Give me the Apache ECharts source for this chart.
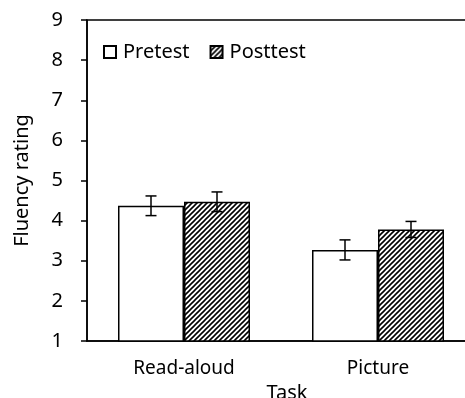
<!DOCTYPE html>
<html>
<head>
<meta charset="utf-8">
<script src="https://cdn.jsdelivr.net/npm/echarts@6/dist/echarts.min.js"></script>
<style>
  html, body { margin: 0; padding: 0; background: #fff; }
  #chart { width: 465px; height: 398px; }
</style>
</head>
<body>
<div id="chart"></div>
<script>
// data
const tasks = ['Read-aloud', 'Picture']
const pretest = [4.37, 3.27]
const pretestErr = [0.245, 0.25]
const posttest = [4.47, 3.78]
const posttestErr = [0.245, 0.2]
const yTicks = [1, 9, 1] // min, max, interval

const FONT = '"Noto Sans", sans-serif'
const BAR_W = 66

// hatched fill for the posttest bars
function makeHatch() {
  const c = document.createElement('canvas')
  c.width = 5
  c.height = 5
  const ctx = c.getContext('2d')
  ctx.fillStyle = '#fff'
  ctx.fillRect(0, 0, 5, 5)
  ctx.strokeStyle = '#000'
  ctx.lineWidth = 1.6
  ctx.beginPath()
  ctx.moveTo(0, 5); ctx.lineTo(5, 0)
  ctx.moveTo(-1, 1); ctx.lineTo(1, -1)
  ctx.moveTo(4, 6); ctx.lineTo(6, 4)
  ctx.stroke()
  return c
}
const hatch = { image: makeHatch(), repeat: 'repeat' }

function errData(vals, errs) {
  return vals.map((v, i) => [i, v + errs[i], v - errs[i]])
}

function errRender(offset) {
  return function (params, api) {
    const hi = api.coord([api.value(0), api.value(1)])
    const lo = api.coord([api.value(0), api.value(2)])
    const x = hi[0] + offset
    const cap = 5.5
    const style = { stroke: '#000', lineWidth: 1.5 }
    return {
      type: 'group',
      children: [
        { type: 'line', shape: { x1: x, y1: hi[1], x2: x, y2: lo[1] }, style },
        { type: 'line', shape: { x1: x - cap, y1: hi[1], x2: x + cap, y2: hi[1] }, style },
        { type: 'line', shape: { x1: x - cap, y1: lo[1], x2: x + cap, y2: lo[1] }, style }
      ]
    }
  }
}

const chart = echarts.init(document.getElementById('chart'), null, { renderer: 'canvas' })
chart.setOption({
  animation: false,
  backgroundColor: '#fff',
  textStyle: { fontFamily: FONT, color: '#000' },
  grid: {
    left: 87,
    top: 20,
    width: 388,
    height: 321,
    containLabel: false,
    outerBoundsMode: 'none',
    show: true,
    borderColor: '#000',
    borderWidth: 1.5,
    backgroundColor: 'transparent'
  },
  legend: {
    left: 98,
    top: 37,
    itemWidth: 12,
    itemHeight: 12,
    itemGap: 20,
    icon: 'rect',
    textStyle: { fontFamily: FONT, fontSize: 20, color: '#000', padding: [0, 0, 0, 2] },
    data: ['Pretest', 'Posttest']
  },
  xAxis: {
    type: 'category',
    data: tasks,
    name: 'Task',
    nameLocation: 'middle',
    nameGap: 42,
    nameTextStyle: { fontFamily: FONT, fontSize: 20, color: '#000', padding: [0, 0, 0, 12] },
    axisLine: { lineStyle: { color: '#000', width: 1.5 } },
    axisTick: { show: false },
    axisLabel: { fontFamily: FONT, fontSize: 19, color: '#000', margin: 18 }
  },
  yAxis: {
    type: 'value',
    min: yTicks[0],
    max: yTicks[1],
    interval: yTicks[2],
    name: 'Fluency rating',
    nameLocation: 'middle',
    nameGap: 55,
    nameTextStyle: { fontFamily: FONT, fontSize: 20, color: '#000' },
    axisLine: { show: true, lineStyle: { color: '#000', width: 1.5 } },
    axisTick: { show: true, length: 6, lineStyle: { color: '#000', width: 1.5 } },
    axisLabel: { fontFamily: FONT, fontSize: 20, color: '#000', margin: 24 },
    splitLine: { show: false }
  },
  series: [
    {
      name: 'Pretest',
      type: 'bar',
      barWidth: BAR_W,
      barGap: '0%',
      itemStyle: { color: '#fff', borderColor: '#000', borderWidth: 1.5 },
      data: pretest
    },
    {
      name: 'Posttest',
      type: 'bar',
      barWidth: BAR_W,
      barGap: '0%',
      itemStyle: { color: hatch, borderColor: '#000', borderWidth: 1.5 },
      data: posttest
    },
    {
      type: 'custom',
      renderItem: errRender(-BAR_W / 2),
      data: errData(pretest, pretestErr),
      z: 10
    },
    {
      type: 'custom',
      renderItem: errRender(BAR_W / 2),
      data: errData(posttest, posttestErr),
      z: 10
    }
  ]
})
</script>
</body>
</html>
